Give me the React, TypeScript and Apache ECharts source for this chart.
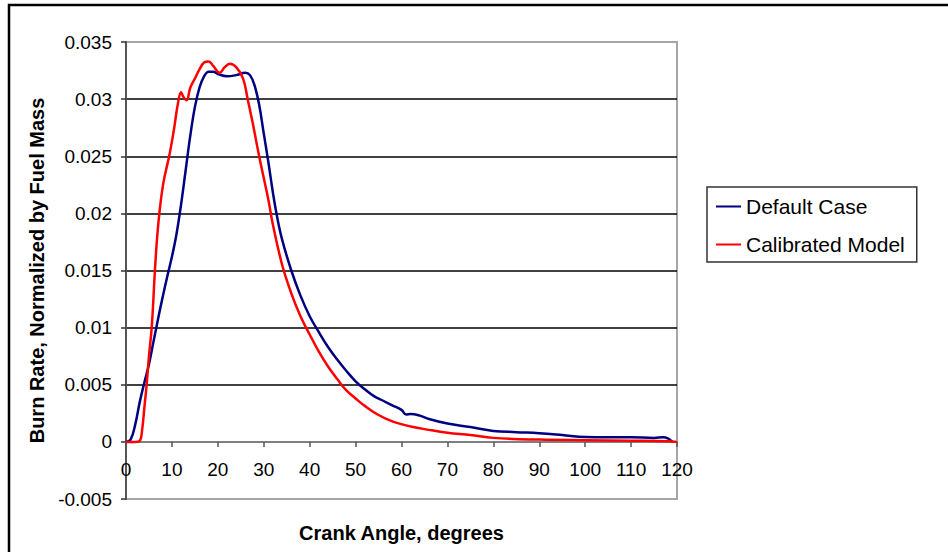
import React, { useEffect, useRef } from "react";
import * as echarts from "echarts";

const seriesNames = ["Default Case", "Calibrated Model"];

const defaultAngles = [
  0, 1, 2, 3, 4, 5, 6, 7, 8, 9, 10, 11, 12, 13, 14, 15, 16, 17, 18, 19, 20, 22, 24, 26, 27, 28, 29, 30, 31, 32, 33, 34,
  36, 38, 40, 42, 44, 46, 48, 50, 52, 54, 56, 58, 60, 61, 62, 64, 66, 70, 75, 80, 85, 90, 95, 100, 105, 110, 115, 117,
  118, 119,
];
const defaultValues = [
  0, 0.0002, 0.0015, 0.0035, 0.0052, 0.0068, 0.0088, 0.0108, 0.0127, 0.0145, 0.0162, 0.0182, 0.0208, 0.0238, 0.0268,
  0.0293, 0.031, 0.032, 0.0324, 0.0324, 0.0322, 0.032, 0.0321, 0.0323, 0.0321, 0.0312, 0.0295, 0.027, 0.0245, 0.0218,
  0.0195, 0.0177, 0.015, 0.0128, 0.011, 0.0096, 0.0083, 0.0072, 0.0062, 0.0053, 0.0046, 0.004, 0.0036, 0.0032, 0.0028,
  0.0024, 0.00245, 0.0023, 0.002, 0.0016, 0.0013, 0.00096, 0.00085, 0.00076, 0.0006, 0.00042, 0.0004, 0.0004, 0.00035,
  0.0004, 0.0003, 0,
];

const calibratedAngles = [
  0, 2, 3, 3.5, 4, 4.5, 5, 5.6, 6.3, 6.8, 7.4, 8.2, 9.5, 10.5, 11.3, 12, 12.5, 13.2, 14, 15, 16, 17, 18, 19, 20.4, 21.5,
  22.6, 24, 25.5, 26.5, 27.6, 29, 31, 32, 34, 36, 38, 40, 42, 44, 46, 48, 50, 52, 55, 58, 62, 66, 70, 75, 80, 90, 100,
  110, 118, 120,
];
const calibratedValues = [
  0, 0, 0.0001, 0.001, 0.003, 0.005, 0.0075, 0.01, 0.015, 0.018, 0.0205, 0.0228, 0.0252, 0.0275, 0.0296, 0.0306, 0.0302,
  0.0299, 0.031, 0.0318, 0.0326, 0.0332, 0.0333, 0.0329, 0.0323, 0.0328, 0.0331, 0.0328, 0.0318, 0.03, 0.0279, 0.025,
  0.0212, 0.019, 0.0155, 0.013, 0.011, 0.0094, 0.0079, 0.0066, 0.0055, 0.0045, 0.0038, 0.00315, 0.00235, 0.0018,
  0.00135, 0.00105, 0.0008, 0.0006, 0.00035, 0.0002, 0.00015, 0.0001, 0.00005, 0,
];

const xMin = 0;
const xMax = 120;
const xInterval = 10;
const yMin = -0.005;
const yMax = 0.035;
const yInterval = 0.005;

const xAxisTitle = "Crank Angle, degrees";
const yAxisTitle = "Burn Rate, Normalized by Fuel Mass";

const FONT = "'Liberation Sans', Arial, sans-serif";

export default function App() {
  const ref = useRef<HTMLDivElement>(null);

  useEffect(() => {
    document.body.style.margin = "0";
    if (!ref.current) return;
    const chart = echarts.init(ref.current, undefined, { renderer: "svg" });

    const pairs = (xs: number[], ys: number[]) => xs.map((x, i) => [x, ys[i]]);

    const gridTop = 42;
    const gridBottom = 53;
    const plotHeight = 552 - gridTop - gridBottom;
    const zeroOffset = -(plotHeight * (0 - yMin)) / (yMax - yMin);

    chart.setOption({
      animation: false,
      backgroundColor: "#ffffff",
      textStyle: { fontFamily: FONT },
      graphic: [
        {
          type: "rect",
          shape: { x: 9, y: 5, width: 1200, height: 800 },
          style: { fill: "none", stroke: "#000", lineWidth: 2.5 },
          silent: true,
          z: 100,
        },
      ],
      grid: {
        left: 126,
        right: 271,
        top: gridTop,
        bottom: gridBottom,
        show: true,
        containLabel: false,
        outerBoundsMode: "none",
        borderColor: "#a6a6a6",
        borderWidth: 2,
        backgroundColor: "#fff",
      },
      legend: {
        orient: "vertical",
        left: 707,
        top: 187,
        padding: [9, 12, 7, 9],
        itemGap: 17,
        itemWidth: 25,
        itemHeight: 2,
        borderColor: "#333",
        borderWidth: 1.5,
        icon: "rect",
        textStyle: { fontSize: 21, color: "#000", fontFamily: FONT },
        data: seriesNames,
      },
      xAxis: {
        type: "value",
        min: xMin,
        max: xMax,
        interval: xInterval,
        position: "bottom",
        offset: zeroOffset,
        name: xAxisTitle,
        nameLocation: "middle",
        nameGap: 81,
        nameTextStyle: { fontSize: 20, fontWeight: "bold", color: "#000", fontFamily: FONT },
        axisLine: { show: true, onZero: false, lineStyle: { color: "#808080", width: 2 } },
        axisTick: { show: true, length: 5, inside: false, lineStyle: { color: "#555", width: 1.5 } },
        axisLabel: { fontSize: 19, color: "#000", margin: 18, fontFamily: FONT },
        splitLine: { show: false },
      },
      yAxis: {
        type: "value",
        min: yMin,
        max: yMax,
        interval: yInterval,
        name: yAxisTitle,
        nameLocation: "middle",
        nameGap: 79,
        nameRotate: 90,
        nameTextStyle: { fontSize: 20, fontWeight: "bold", color: "#000", fontFamily: FONT },
        axisLine: { show: true, onZero: false, lineStyle: { color: "#555", width: 2 } },
        axisTick: { show: true, length: 5, inside: false, lineStyle: { color: "#333", width: 1.5 } },
        axisLabel: {
          fontSize: 19,
          color: "#000",
          margin: 14,
          fontFamily: FONT,
          formatter: (v: number) => String(parseFloat(v.toFixed(3))),
        },
        splitLine: {
          show: true,
          lineStyle: {
            color: ["#a6a6a6", "#808080", "#000", "#000", "#000", "#000", "#000", "#000", "#a6a6a6"],
            width: 1.5,
          },
        },
      },
      series: [
        {
          name: seriesNames[0],
          type: "line",
          data: pairs(defaultAngles, defaultValues),
          showSymbol: false,
          smooth: 0.4,
          lineStyle: { color: "#000080", width: 2.5 },
          itemStyle: { color: "#000080" },
          z: 3,
        },
        {
          name: seriesNames[1],
          type: "line",
          data: pairs(calibratedAngles, calibratedValues),
          showSymbol: false,
          smooth: 0.4,
          lineStyle: { color: "#ff0000", width: 2.5 },
          itemStyle: { color: "#ff0000" },
          z: 4,
        },
      ],
    });

    return () => chart.dispose();
  }, []);

  return <div ref={ref} style={{ width: 948, height: 552 }} />;
}
